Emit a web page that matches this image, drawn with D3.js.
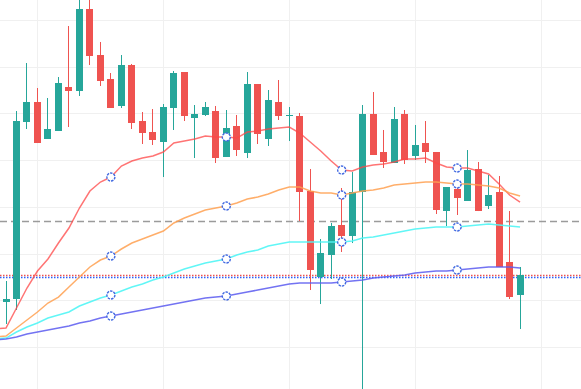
<!DOCTYPE html>
<html>
<head>
<meta charset="utf-8">
<script src="https://cdn.jsdelivr.net/npm/d3@7"></script>
<style>
  body { margin: 0; background: #fff; }
  svg { display: block; }
</style>
</head>
<body>
<div id="chart"></div>
<script>
// candles, index 0..49
var opens = [109.62,110.26,148.16,152.44,144.52,146.23,155.65,154.80,172.35,162.50,
  157.37,151.59,160.36,148.37,146.02,143.88,151.16,158.86,149.02,149.66,
  150.51,140.67,147.30,141.52,156.30,144.52,152.44,149.55,149.44,133.39,
  114.97,119.68,126.11,123.75,133.17,149.87,141.74,139.38,149.87,140.88,
  143.66,141.74,129.10,133.82,131.25,138.10,130.18,133.17,118.19,111.12];
var closes = [110.26,148.37,152.44,143.66,146.66,156.51,154.80,172.35,162.29,156.94,
  151.16,160.36,147.95,145.80,144.31,151.37,158.65,149.44,149.87,151.37,
  140.45,146.88,142.16,156.30,145.59,152.87,149.44,149.66,133.17,116.47,
  120.11,125.89,123.75,133.17,149.87,141.09,139.60,148.80,140.02,143.24,
  141.74,129.32,134.24,131.89,137.88,129.10,132.53,117.12,110.69,115.40];
var highs = [114.12,150.51,160.79,155.44,153.30,157.79,168.71,174.92,174.92,165.29,
  158.65,162.50,160.58,150.30,150.94,152.01,159.08,158.86,151.80,152.44,
  151.59,150.73,149.66,158.86,156.30,155.01,157.15,151.37,150.09,138.10,
  123.11,126.54,134.03,137.45,151.80,154.58,146.45,151.37,150.73,147.52,
  148.37,141.74,134.24,135.53,142.16,139.60,136.81,136.60,129.10,117.12];
var lows = [104.91,107.91,146.66,143.66,144.52,146.23,147.09,153.73,160.36,155.87,
  151.16,151.16,146.66,143.45,143.24,136.38,146.45,148.37,140.45,149.44,
  139.38,140.67,140.88,140.45,143.45,143.02,148.59,144.09,126.96,112.19,
  109.19,114.55,120.33,122.25,88.64,141.09,138.31,139.38,139.17,140.02,
  139.38,128.46,125.89,128.25,131.25,129.10,129.53,117.12,110.26,103.84];

// moving averages, index -1..49
var maStart = -1;
var ma5 = [103.84,104.06,108.34,112.62,116.26,118.83,122.25,125.47,129.75,133.39,135.31,
  136.38,138.74,139.81,140.45,140.88,141.74,143.66,144.09,144.52,145.16,
  144.95,144.95,144.73,146.02,146.23,146.66,146.88,147.09,145.80,143.88,
  141.95,139.81,137.88,137.67,138.53,138.95,139.17,139.60,140.24,140.24,
  140.45,139.38,138.53,138.31,138.31,137.67,137.03,134.89,132.53,131.03];
var ma10 = [102.13,102.34,104.06,105.77,107.48,109.41,110.69,112.83,114.97,117.12,118.61,
  119.47,120.97,122.25,123.11,123.97,124.82,126.54,127.61,128.46,129.32,
  129.75,130.18,130.82,131.67,132.10,132.74,133.60,134.24,134.24,133.39,
  132.96,132.96,132.53,132.96,133.39,133.60,134.03,134.67,134.89,135.10,
  135.31,135.31,135.10,134.89,134.89,134.67,134.46,134.03,132.96,132.32];
var ma20 = [101.70,101.91,103.20,104.27,105.13,106.20,106.84,107.48,108.77,109.62,110.48,
  111.12,111.98,112.83,113.48,114.33,114.97,115.83,116.69,117.33,117.97,
  118.40,118.83,119.68,120.33,120.75,121.61,122.04,122.47,122.47,122.47,
  122.47,122.47,122.47,122.68,123.32,123.54,123.97,124.39,124.82,125.25,
  125.47,125.68,125.68,125.68,125.89,126.11,126.32,126.11,125.89,125.68];
var ma30 = [101.49,101.70,102.13,102.77,103.20,103.63,104.06,104.48,105.13,105.55,106.20,
  106.62,107.05,107.48,107.91,108.34,108.77,109.19,109.62,110.05,110.48,
  110.69,110.91,111.33,111.76,112.19,112.62,113.05,113.48,113.69,113.69,
  113.69,113.69,113.90,114.12,114.33,114.76,114.97,115.19,115.40,115.83,
  116.04,116.26,116.26,116.47,116.69,116.90,117.12,117.12,117.12,116.90];

var markerIdx = [10, 21, 32, 43];
var gridPrices = [170, 160, 150, 140, 130, 120, 110, 100];
var gridIdx = [3, 15, 27, 39, 51];
var crossPrice = 126.96;
var lastPrice = 115.40;
var avgPrice = 114.97;

var up_color = "#26a69a";
var down_color = "#ef5350";

var width = 581, height = 389;

var x = d3.scaleLinear().domain([-0.572, 54.81]).range([0, width]);
var y = d3.scaleLinear().domain([91.0, 174.28]).range([height, 0]);
var bodyW = 7;

var svg = d3.select('#chart')
  .append('svg')
    .attr('width', width)
    .attr('height', height);

// grid
svg.selectAll('.hgrid')
  .data(gridPrices)
  .enter()
  .append('line')
  .attr('class', 'hgrid')
  .attr('x1', 0).attr('x2', width)
  .attr('y1', function(d) { return Math.round(y(d)) + 0.5; })
  .attr('y2', function(d) { return Math.round(y(d)) + 0.5; })
  .attr('stroke', '#f0f0f0')
  .attr('stroke-width', 1);

svg.selectAll('.vgrid')
  .data(gridIdx)
  .enter()
  .append('line')
  .attr('class', 'vgrid')
  .attr('y1', 0).attr('y2', height)
  .attr('x1', function(d) { return Math.round(x(d)) + 0.5; })
  .attr('x2', function(d) { return Math.round(x(d)) + 0.5; })
  .attr('stroke', '#f0f0f0')
  .attr('stroke-width', 1);

// horizontal price lines
function hline(price, color, dash, w) {
  svg.append('line')
    .attr('x1', 0).attr('x2', width)
    .attr('y1', Math.round(y(price)) + 0.5)
    .attr('y2', Math.round(y(price)) + 0.5)
    .attr('stroke', color)
    .attr('stroke-width', w)
    .attr('stroke-dasharray', dash);
}
hline(crossPrice, '#9b9b9b', '7,4', 1.3);
hline(lastPrice, '#ef5350', '1.5,1.5', 1.3);
hline(avgPrice, '#2962ff', '1.5,1.5', 1.3);

// candles
var candles = d3.range(opens.length);

function left(i) { return Math.round(x(i) - bodyW / 2); }
function isUp(i) { return closes[i] >= opens[i]; }

svg.selectAll('.wick')
  .data(candles)
  .enter()
  .append('line')
  .attr('class', 'wick')
  .attr('x1', function(i) { return left(i) + bodyW / 2; })
  .attr('x2', function(i) { return left(i) + bodyW / 2; })
  .attr('y1', function(i) { return y(highs[i]); })
  .attr('y2', function(i) { return y(lows[i]); })
  .attr('stroke', function(i) { return isUp(i) ? up_color : down_color; })
  .attr('stroke-width', 1);

svg.selectAll('.body')
  .data(candles)
  .enter()
  .append('rect')
  .attr('class', 'body')
  .attr('x', function(i) { return left(i); })
  .attr('width', bodyW)
  .attr('y', function(i) { return Math.round(y(Math.max(opens[i], closes[i]))); })
  .attr('height', function(i) {
    return Math.max(1, Math.round(y(Math.min(opens[i], closes[i]))) - Math.round(y(Math.max(opens[i], closes[i]))));
  })
  .attr('fill', function(i) { return isUp(i) ? up_color : down_color; });

// moving average lines
var maSeries = [
  {name: 'MA5', values: ma5, color: 'rgba(255,70,70,0.75)'},
  {name: 'MA10', values: ma10, color: 'rgba(255,160,80,0.85)'},
  {name: 'MA20', values: ma20, color: 'rgba(80,245,245,0.9)'},
  {name: 'MA30', values: ma30, color: 'rgba(90,90,240,0.85)'}
];

var line = d3.line()
  .x(function(d, i) { return x(i + maStart); })
  .y(function(d) { return y(d); });

svg.selectAll('.ma')
  .data(maSeries)
  .enter()
  .append('path')
  .attr('class', 'ma')
  .attr('d', function(d) { return line(d.values); })
  .attr('fill', 'none')
  .attr('stroke', function(d) { return d.color; })
  .attr('stroke-width', 1.5);

// markers
var markers = [];
maSeries.forEach(function(s) {
  markerIdx.forEach(function(i) {
    markers.push({i: i, v: s.values[i - maStart]});
  });
});

svg.selectAll('.marker')
  .data(markers)
  .enter()
  .append('circle')
  .attr('class', 'marker')
  .attr('cx', function(d) { return x(d.i); })
  .attr('cy', function(d) { return y(d.v); })
  .attr('r', 4)
  .attr('fill', '#fff')
  .attr('stroke', '#4169e1')
  .attr('stroke-width', 1.4)
  .attr('stroke-dasharray', '2.5,1');
</script>
</body>
</html>
